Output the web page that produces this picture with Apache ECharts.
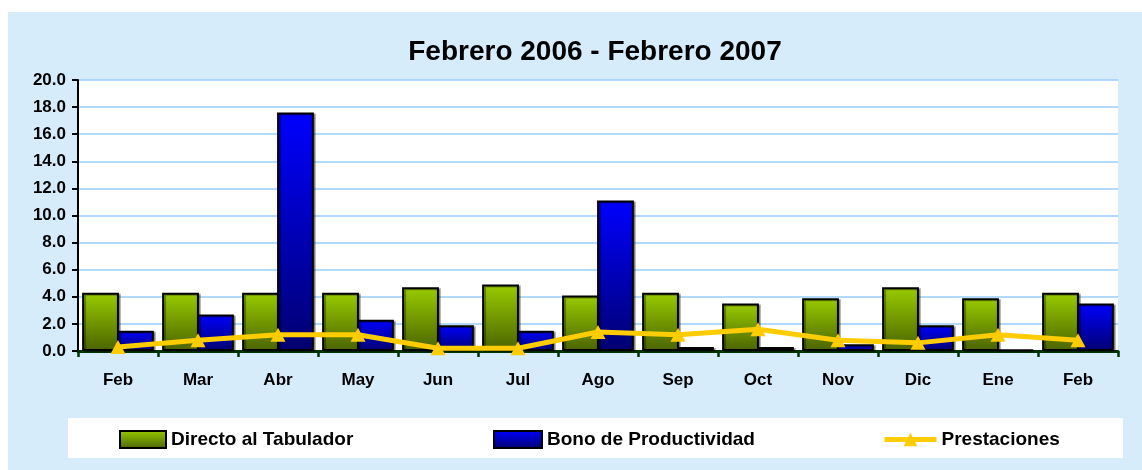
<!DOCTYPE html>
<html>
<head>
<meta charset="utf-8">
<script src="https://cdn.jsdelivr.net/npm/echarts@6/dist/echarts.min.js"></script>
<style>
  html, body { margin: 0; padding: 0; background: #fff; }
  #chart { width: 1142px; height: 470px; }
</style>
</head>
<body>
<div id="chart"></div>
<script>
var months = ["Feb", "Mar", "Abr", "May", "Jun", "Jul", "Ago", "Sep", "Oct", "Nov", "Dic", "Ene", "Feb"];
var directo = [4.3, 4.3, 4.3, 4.3, 4.7, 4.9, 4.1, 4.3, 3.5, 3.9, 4.7, 3.9, 4.3];
var bono = [1.5, 2.7, 17.6, 2.3, 1.9, 1.5, 11.1, 0.3, 0.3, 0.5, 1.9, 0.1, 3.5];
var prestaciones = [0.3, 0.8, 1.2, 1.2, 0.2, 0.2, 1.4, 1.2, 1.6, 0.8, 0.6, 1.2, 0.8];

var font = "'Liberation Sans', Arial, sans-serif";

function grad(top, bottom) {
  return new echarts.graphic.LinearGradient(0, 0, 0, 1, [
    { offset: 0, color: top },
    { offset: 1, color: bottom }
  ]);
}

var chart = echarts.init(document.getElementById("chart"));
var legendText = { fontFamily: font, fontWeight: "bold", fontSize: 19, color: "#000" };

chart.setOption({
  animation: false,
  graphic: [
    // fondo azul claro
    { type: "rect", z: -10, shape: { x: 8, y: 12, width: 1134, height: 458 }, style: { fill: "#D6ECFB" } },
    // caja blanca de la leyenda
    { type: "rect", z: -9, shape: { x: 68, y: 418, width: 1055, height: 40 }, style: { fill: "#fff" } }
  ],
  title: {
    text: "Febrero 2006 - Febrero 2007",
    left: 590,
    textAlign: "center",
    top: 33,
    textStyle: { fontFamily: font, fontWeight: "bold", fontSize: 28, color: "#000" }
  },
  legend: [
    {
      data: ["Directo al Tabulador"], left: 114, top: 425, icon: "rect",
      itemWidth: 46, itemHeight: 17, itemGap: 8, textStyle: legendText
    },
    {
      data: ["Bono de Productividad"], left: 488, top: 425, icon: "rect",
      itemWidth: 48, itemHeight: 17, itemGap: 8, textStyle: legendText
    },
    {
      data: ["Prestaciones"], left: 877, top: 425,
      itemWidth: 52, itemHeight: 17, itemGap: 5, textStyle: legendText,
      lineStyle: { width: 5 }
    }
  ],
  grid: {
    left: 78, right: 24, top: 80, bottom: 119,
    show: true, backgroundColor: "#fff", borderWidth: 0
  },
  xAxis: {
    type: "category",
    data: months,
    axisLine: { lineStyle: { color: "#003300", width: 3 } },
    axisTick: { show: true, length: 6, lineStyle: { color: "#003300", width: 2.5 } },
    axisLabel: {
      margin: 21,
      fontFamily: font, fontWeight: "bold", fontSize: 17, color: "#000"
    }
  },
  yAxis: {
    type: "value",
    min: 0, max: 20, interval: 2,
    axisLine: { show: true, lineStyle: { color: "#000", width: 2 } },
    axisTick: { show: true, length: 6, lineStyle: { color: "#000", width: 2 } },
    splitLine: { lineStyle: { color: "#99CCFF", width: 1.5 } },
    axisLabel: {
      margin: 12,
      formatter: function (v) { return v.toFixed(1); },
      fontFamily: font, fontWeight: "bold", fontSize: 17, color: "#000"
    }
  },
  series: [
    {
      name: "Directo al Tabulador",
      type: "bar",
      data: directo,
      barWidth: "46%",
      barGap: "-5%",
      itemStyle: {
        color: grad("#99CC00", "#4A6300"),
        borderColor: "#000", borderWidth: 2,
        shadowColor: "rgba(0,0,0,0.3)", shadowOffsetX: 2, shadowOffsetY: 1
      }
    },
    {
      name: "Bono de Productividad",
      type: "bar",
      data: bono,
      barWidth: "46%",
      barGap: "-5%",
      itemStyle: {
        color: grad("#0000FF", "#000070"),
        borderColor: "#000", borderWidth: 2,
        shadowColor: "rgba(0,0,0,0.3)", shadowOffsetX: 2, shadowOffsetY: 1
      }
    },
    {
      name: "Prestaciones",
      type: "line",
      data: prestaciones,
      z: 5,
      symbol: "triangle",
      symbolSize: [15, 14],
      lineStyle: { color: "#FFCC00", width: 5 },
      itemStyle: { color: "#FFCC00" }
    }
  ]
});
</script>
</body>
</html>
